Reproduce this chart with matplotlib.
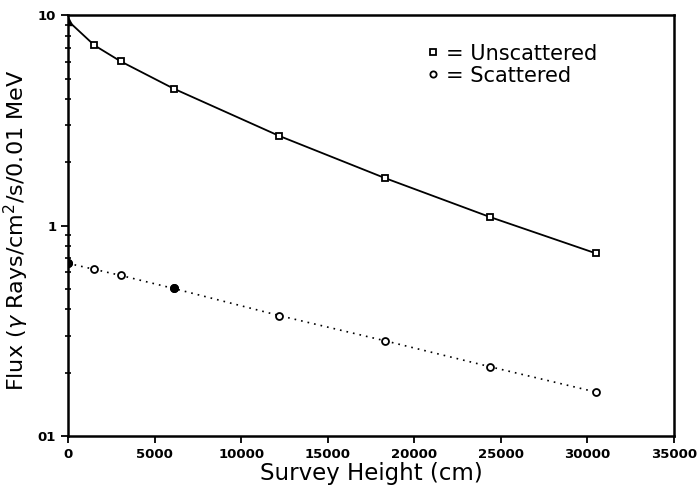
import matplotlib
matplotlib.use('Agg')
import matplotlib.pyplot as plt
from matplotlib.lines import Line2D
from matplotlib.ticker import FixedLocator, LogLocator, NullFormatter

# survey heights (cm) and flux values
height      = [0, 1524, 3048, 6096, 12192, 18288, 24384, 30480]
unscattered = [9.4, 7.19, 6.03, 4.48, 2.67, 1.685, 1.098, 0.739]
scattered   = [0.662, 0.620, 0.580, 0.503, 0.374, 0.284, 0.2135, 0.162]

xticks = [0, 5000, 10000, 15000, 20000, 25000, 30000, 35000]
yticks = [0.1, 1, 10]
ylabels = ['01', '1', '10']

my_dpi = 100
fig = plt.figure(figsize=(697/my_dpi, 490/my_dpi), dpi=my_dpi, facecolor='white')
ax = fig.add_axes([0.0976, 0.110, 0.8694, 0.859])
ax.set_yscale('log')

# unscattered: solid line, open squares, first point filled triangle
ax.plot(height, unscattered, color='black', lw=1.3, zorder=2)
ax.plot(height[1:], unscattered[1:], ls='none', marker='s', ms=5, mfc='white', mec='black', mew=1.3, zorder=3)
ax.plot(height[0], unscattered[0], ls='none', marker='^', ms=6, color='black', zorder=3)

# scattered: dotted line, open circles, a couple filled
ax.plot(height, scattered, color='black', lw=1.2, ls=(0, (1, 3)), zorder=2)
ax.plot(height, scattered, ls='none', marker='o', ms=5, mfc='white', mec='black', mew=1.3, zorder=3)
ax.plot([height[0], height[3]], [scattered[0], scattered[3]], ls='none', marker='o', ms=5.5, color='black', zorder=4)

ax.set_xlim(0, 35000)
ax.set_ylim(0.1, 10)
ax.set_xticks(xticks)
ax.set_xticklabels([str(t) for t in xticks], fontsize=9.5, fontweight='bold')
ax.yaxis.set_major_locator(FixedLocator(yticks))
ax.set_yticklabels(ylabels, fontsize=9.5, fontweight='bold')
ax.yaxis.set_minor_locator(LogLocator(base=10, subs=range(2, 10)))
ax.yaxis.set_minor_formatter(NullFormatter())
ax.tick_params(axis='both', which='major', direction='out', length=5, width=1.3)
ax.tick_params(axis='y', which='minor', direction='inout', length=4, width=1.2)

for s in ax.spines.values():
    s.set_linewidth(1.8)

ax.set_xlabel('Survey Height (cm)', fontsize=16.5, labelpad=1)
ax.set_ylabel('Flux ($\\gamma$ Rays/cm$^2$/s/0.01 MeV', fontsize=16, labelpad=5, y=0.49)

handles = [
    Line2D([], [], ls='none', marker='s', ms=4.5, mfc='white', mec='black', mew=1.3),
    Line2D([], [], ls='none', marker='o', ms=4.5, mfc='white', mec='black', mew=1.3),
]
ax.legend(handles, ['= Unscattered', '= Scattered'], loc='upper right',
          bbox_to_anchor=(0.89, 0.957), frameon=False, fontsize=15,
          handlelength=0.6, handletextpad=0.3, labelspacing=0.1, borderpad=0)

fig.savefig('out.png', dpi=my_dpi, facecolor='white')
